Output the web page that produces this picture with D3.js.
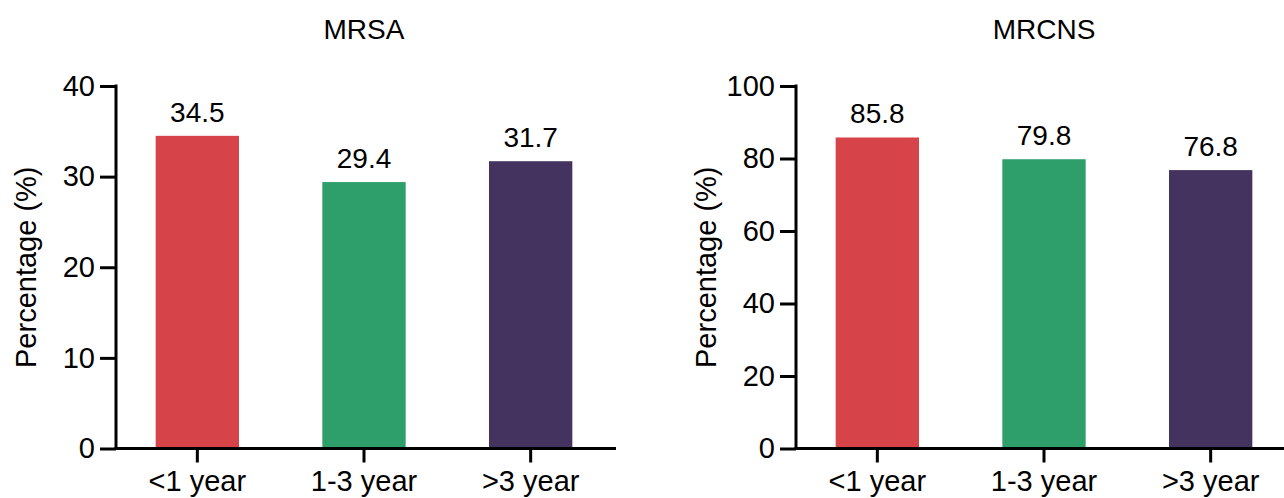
<!DOCTYPE html>
<html>
<head>
<meta charset="utf-8">
<script src="https://cdn.jsdelivr.net/npm/d3@7"></script>
<style>
  html, body { margin: 0; padding: 0; background: #fff; }
  svg { display: block; font-family: "Liberation Sans", Arial, Helvetica, sans-serif; }
</style>
</head>
<body>
<svg id="chart" width="1284" height="498"></svg>
<script>
const categories = ["<1 year", "1-3 year", ">3 year"];
const colors = ["#D6444A", "#2E9E6B", "#44325F"];
const mrsaValues = [34.5, 29.4, 31.7];
const mrcnsValues = [85.8, 79.8, 76.8];
const mrsaTicks = [0, 10, 20, 30, 40];
const mrcnsTicks = [0, 20, 40, 60, 80, 100];

const panels = [
  { title: "MRSA", values: mrsaValues, ticks: mrsaTicks, max: 40, axisX: 116 },
  { title: "MRCNS", values: mrcnsValues, ticks: mrcnsTicks, max: 100, axisX: 796 }
];

const svg = d3.select("#chart");
const yTop = 86, yBottom = 448.5;

panels.forEach(p => {
  const g = svg.append("g");
  const x = d3.scaleBand().domain(categories)
    .range([p.axisX - 2, p.axisX + 498]).paddingInner(0.5).paddingOuter(0.25);
  const y = d3.scaleLinear().domain([0, p.max]).range([yBottom, yTop]);

  // bars
  g.selectAll("rect.bar").data(p.values).enter().append("rect")
    .attr("class", "bar")
    .attr("x", (d, i) => x(categories[i]))
    .attr("width", x.bandwidth())
    .attr("y", d => y(d))
    .attr("height", d => y(0) - y(d))
    .attr("fill", (d, i) => colors[i]);

  // value labels
  g.selectAll("text.val").data(p.values).enter().append("text")
    .attr("class", "val")
    .attr("x", (d, i) => x(categories[i]) + x.bandwidth() / 2)
    .attr("y", d => y(d) - 14)
    .attr("text-anchor", "middle")
    .attr("font-size", 28)
    .attr("fill", "#000")
    .text(d => d.toFixed(1));

  // y axis
  const yAxis = d3.axisLeft(y).tickValues(p.ticks).tickSize(16).tickPadding(5).tickSizeOuter(0);
  const ya = g.append("g").attr("transform", `translate(${p.axisX},0)`).call(yAxis);
  ya.selectAll("path.domain").attr("stroke", "#000").attr("stroke-width", 3)
    .attr("d", `M0,${yBottom + 1.5}V${yTop - 1.5}`);
  ya.selectAll(".tick line").attr("stroke", "#000").attr("stroke-width", 3);
  ya.selectAll(".tick text").attr("font-size", 29).attr("fill", "#000")
    .attr("font-family", "Liberation Sans, Arial, sans-serif");

  // x axis
  const xAxis = d3.axisBottom(x).tickSize(14).tickPadding(8).tickSizeOuter(0);
  const xa = g.append("g").attr("transform", `translate(0,${yBottom})`).call(xAxis);
  xa.selectAll("path.domain").attr("stroke", "#000").attr("stroke-width", 3)
    .attr("d", `M${p.axisX - 1.5},0H${p.axisX + 500}`);
  xa.selectAll(".tick line").attr("stroke", "#000").attr("stroke-width", 3);
  xa.selectAll(".tick text").attr("font-size", 29).attr("fill", "#000")
    .attr("font-family", "Liberation Sans, Arial, sans-serif");

  // y label
  g.append("text")
    .attr("transform", `translate(${p.axisX - 80},${(yTop + yBottom) / 2}) rotate(-90)`)
    .attr("text-anchor", "middle")
    .attr("font-size", 29)
    .attr("fill", "#000")
    .text("Percentage (%)");

  // title
  g.append("text")
    .attr("x", x(categories[1]) + x.bandwidth() / 2)
    .attr("y", 39)
    .attr("text-anchor", "middle")
    .attr("font-size", 28)
    .attr("fill", "#000")
    .text(p.title);
});
</script>
</body>
</html>
